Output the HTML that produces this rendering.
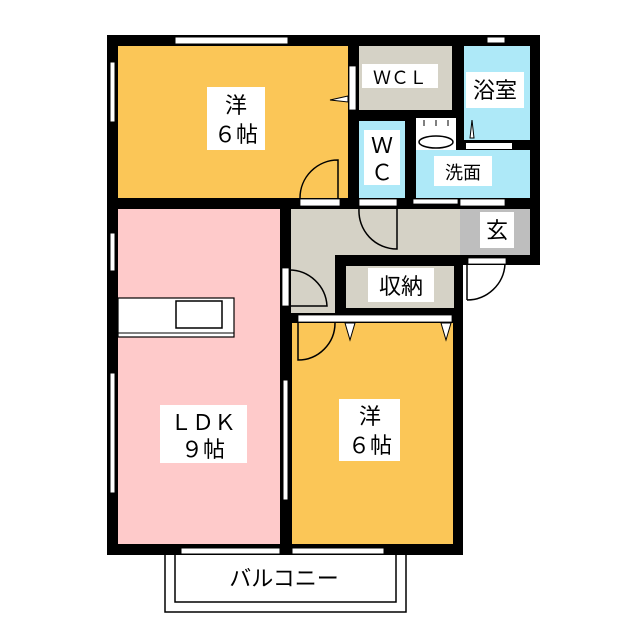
<!DOCTYPE html>
<html><head><meta charset="utf-8"><style>
html,body{margin:0;padding:0;background:#fff;}
svg{display:block;}
text{font-family:"Liberation Sans","Noto Sans CJK JP",sans-serif;fill:#000;}
</style></head><body>
<svg width="640" height="640" viewBox="0 0 640 640" xmlns="http://www.w3.org/2000/svg">
<rect x="165" y="548" width="241" height="64" fill="#fff" stroke="#000" stroke-width="1.5"/>
<rect x="175" y="548" width="221" height="54" fill="#fff" stroke="#000" stroke-width="1.5"/>
<polygon points="107,35 540,35 540,265 463,265 463,555 107,555" fill="#000"/>
<rect x="118" y="46" width="230" height="152" fill="#FBC657"/>
<rect x="359" y="46" width="93" height="64" fill="#D5D2C6"/>
<rect x="464" y="46" width="66" height="64" fill="#AEE9F8"/>
<rect x="464" y="110" width="66" height="30" fill="#AEE9F8"/>
<rect x="359" y="121" width="46" height="77" fill="#AEE9F8"/>
<rect x="416" y="150" width="114" height="48" fill="#AEE9F8"/>
<rect x="416" y="118" width="40" height="32" fill="#fff"/>
<ellipse cx="436" cy="142" rx="17" ry="6" fill="none" stroke="#000" stroke-width="1.5"/>
<line x1="424" y1="120" x2="424" y2="126" stroke="#000"/><line x1="436" y1="120" x2="436" y2="126" stroke="#000"/><line x1="448" y1="120" x2="448" y2="126" stroke="#000"/>
<rect x="466" y="143" width="46" height="6" fill="#fff"/>
<polygon points="291,209 460,209 460,255 335,255 335,313 291,313" fill="#D5D2C6"/>
<rect x="460" y="209" width="70" height="46" fill="#BEBEBE"/>
<rect x="346" y="266" width="108" height="42" fill="#D5D2C6"/>
<rect x="118" y="209" width="162" height="335" fill="#FECACA"/>
<rect x="292" y="323" width="161" height="221" fill="#FBC657"/>
<rect x="118" y="298" width="116" height="39" fill="#fff" stroke="#000" stroke-width="1.2"/>
<line x1="118" y1="333" x2="234" y2="333" stroke="#000"/>
<rect x="176" y="301" width="46" height="27" fill="#fff" stroke="#000" stroke-width="1.5"/>
<g fill="#fff" stroke="#000" stroke-width="0.8">
<rect x="300" y="199" width="40" height="7"/>
<rect x="359" y="199" width="38" height="7"/>
<rect x="413" y="199" width="45" height="5"/>
<rect x="460" y="199" width="45" height="7"/>
<rect x="468" y="258" width="38" height="6"/>
<rect x="349" y="66" width="7" height="44"/>
<rect x="282" y="268" width="7" height="38"/>
<rect x="298" y="315" width="154" height="7"/>
</g>
<g fill="none" stroke="#000" stroke-width="1.5">
<path d="M338,198 L338,160 A38,38 0 0 0 300,198"/>
<path d="M397,209 L397,249 A38,38 0 0 1 359,209"/>
<path d="M289,270 A38,38 0 0 1 327,306 L289,306"/>
<path d="M298,323 L298,360 A37,37 0 0 0 335,323"/>
<path d="M467,300 A38,38 0 0 0 505,264 M467,264 L467,300"/>
</g>
<path d="M348,96 L330,100 L348,102 Z" fill="#fff" stroke="#000"/>
<path d="M470,138 L472,120 L474,138 Z" fill="#fff" stroke="#000"/>
<path d="M345,323 L350,340 L355,323 Z" fill="#fff" stroke="#000"/>
<path d="M441,323 L446,340 L451,323 Z" fill="#fff" stroke="#000"/>
<g fill="#fff" stroke="#000" stroke-width="1">
<rect x="175" y="37" width="113" height="7"/>
<rect x="110" y="62" width="5" height="60"/>
<rect x="110" y="233" width="5" height="38"/>
<rect x="110" y="373" width="5" height="120"/>
<rect x="283" y="380" width="5" height="120"/>
<rect x="181" y="548" width="99" height="6"/>
<rect x="292" y="548" width="92" height="6"/>
<rect x="487" y="37" width="18" height="6"/>
</g>
<g fill="#fff">
<rect x="207" y="87" width="58" height="63"/>
<rect x="362" y="64" width="76" height="24"/>
<rect x="466" y="72" width="58" height="36"/>
<rect x="364" y="130" width="36" height="55"/>
<rect x="434" y="156" width="58" height="30"/>
<rect x="480" y="212" width="34" height="36"/>
<rect x="368" y="268" width="66" height="34"/>
<rect x="339" y="399" width="61" height="62"/>
<rect x="160" y="405" width="87" height="58"/>
</g>
<g font-size="22" text-anchor="middle">
<text x="236" y="113">洋</text><text x="236" y="142">６帖</text>
<text x="400" y="84" font-size="18">ＷＣＬ</text>
<text x="495" y="98">浴室</text>
<text x="382" y="153">Ｗ</text><text x="382" y="180">Ｃ</text>
<text x="463" y="179" font-size="18">洗面</text>
<text x="497" y="238">玄</text>
<text x="401" y="294">収納</text>
<text x="370" y="424">洋</text><text x="370" y="453">６帖</text>
<text x="203" y="430">ＬＤＫ</text><text x="203" y="457">９帖</text>
<text x="284" y="586">バルコニー</text>
</g>
</svg>
</body></html>
